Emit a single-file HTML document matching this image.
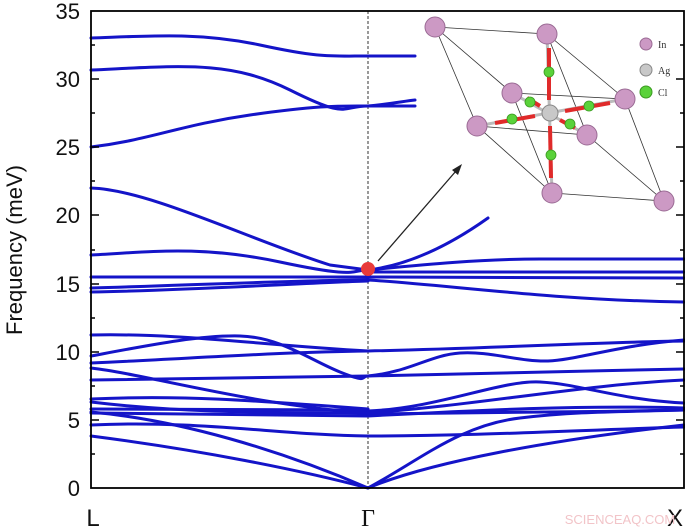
<!DOCTYPE html>
<html><head><meta charset="utf-8"><style>
html,body{margin:0;padding:0;background:#fff;}
svg{display:block;font-family:"Liberation Sans",Arial,sans-serif;}
</style></head><body>
<svg width="685" height="528" viewBox="0 0 685 528" xmlns="http://www.w3.org/2000/svg">
<rect width="685" height="528" fill="#fff"/>
<line x1="368" y1="11" x2="368" y2="488" stroke="#333" stroke-width="1" stroke-dasharray="3,2"/>
<g fill="none" stroke="#1414c8" stroke-width="3" stroke-linecap="round">
<path d="M91,38 C150,36 200,32 260,45 S330,56 368,56"/>
<path d="M91,70 C180,66 230,60 290,90 S340,106 368,106"/>
<path d="M91,147 C150,140 180,125 250,115 S340,106 368,106"/>
<path d="M91,188 C150,190 250,240 330,265 L368,270"/>
<path d="M91,255 C150,252 200,245 280,262 S350,270 368,270"/>
<path d="M91,277 L368,277"/>
<path d="M91,288 C200,285 300,280 368,280"/>
<path d="M91,292 C200,290 300,283 368,281"/>
<path d="M91,335 C180,333 260,345 368,351"/>
<path d="M91,356 C150,345 200,335 240,336 S310,360 340,372 S360,376 368,376"/>
<path d="M91,363 C200,358 280,352 368,351"/>
<path d="M91,380 C200,379 300,377 368,376"/>
<path d="M91,368 C150,375 250,405 368,413"/>
<path d="M91,399 C180,395 250,400 368,409"/>
<path d="M91,402 C200,415 300,412 368,413"/>
<path d="M91,409 L368,410"/>
<path d="M91,413 L368,416"/>
<path d="M91,425 C200,420 280,435 368,436"/>
<path d="M91,412 C180,420 280,450 368,488"/>
<path d="M91,436 C200,450 300,470 368,488"/>
<path d="M368,56 L415,56"/>
<path d="M368,106 C390,104 405,101 415,100"/>
<path d="M368,106 L415,106"/>
<path d="M368,270 C410,265 450,245 488,218"/>
<path d="M368,270 C420,265 480,259 540,259 L684,259"/>
<path d="M368,272 L684,272"/>
<path d="M368,277 L684,278"/>
<path d="M368,280 C450,285 550,300 684,302"/>
<path d="M368,351 C500,348 600,342 684,341"/>
<path d="M368,376 C410,372 430,355 460,353 S520,362 548,361 S620,345 684,340"/>
<path d="M368,376 C480,374 580,371 684,369"/>
<path d="M368,411 C440,408 500,380 540,382 S620,400 684,403"/>
<path d="M368,413 C480,405 580,385 684,380"/>
<path d="M368,414 C480,413 580,412 684,410"/>
<path d="M368,416 C480,410 580,405 684,408"/>
<path d="M368,436 C480,436 580,430 684,427"/>
<path d="M368,488 C420,460 460,425 520,418 S620,412 684,410"/>
<path d="M368,488 C430,462 550,440 684,425"/>
</g>
<!-- inset -->
<rect x="418" y="12" width="265" height="150" fill="#fff"/>
<rect x="490" y="160" width="193" height="55" fill="#fff"/>
<g stroke="#333" stroke-width="0.8" fill="none">
<path d="M435,27 L547,34 L625,99 L512,93 Z"/>
<path d="M477,126 L587,135 L664,201 L552,193 Z"/>
<path d="M435,27 L477,126 M547,34 L587,135 M625,99 L664,201 M512,93 L552,193"/>
</g>
<g stroke="#bbb" stroke-width="3">
<line x1="477" y1="126" x2="625" y2="99"/><line x1="512" y1="93" x2="587" y2="135"/><line x1="547" y1="34" x2="552" y2="193"/>
</g>
<g stroke="#e02a2a" stroke-width="4">
<line x1="549" y1="48" x2="549" y2="100"/><line x1="550" y1="126" x2="551" y2="178"/>
<line x1="495" y1="123" x2="535" y2="116"/><line x1="565" y1="111" x2="610" y2="103"/>
<line x1="527" y1="98" x2="540" y2="106"/><line x1="560" y1="120" x2="575" y2="128"/>
</g>
<g fill="#cc99c4" stroke="#9a6a94" stroke-width="1">
<circle cx="435" cy="27" r="10"/><circle cx="547" cy="34" r="10"/><circle cx="512" cy="93" r="10"/><circle cx="625" cy="99" r="10"/>
<circle cx="477" cy="126" r="10"/><circle cx="587" cy="135" r="10"/><circle cx="552" cy="193" r="10"/><circle cx="664" cy="201" r="10"/>
</g>
<circle cx="550" cy="113" r="8" fill="#c8c8c8" stroke="#888"/>
<g fill="#5ad23a" stroke="#3a9a20" stroke-width="0.8">
<circle cx="549" cy="72" r="5"/><circle cx="551" cy="155" r="5"/><circle cx="512" cy="119" r="5"/><circle cx="589" cy="106" r="5"/><circle cx="530" cy="102" r="5"/><circle cx="570" cy="124" r="5"/>
</g>
<circle cx="646" cy="44" r="6" fill="#cc99c4" stroke="#9a6a94"/>
<circle cx="646" cy="70" r="6" fill="#c8c8c8" stroke="#888"/>
<circle cx="646" cy="92" r="6" fill="#5ad23a" stroke="#3a9a20"/>
<g font-family="Liberation Serif,serif" font-size="10" fill="#333">
<text x="658" y="48">In</text><text x="658" y="74">Ag</text><text x="658" y="96">Cl</text>
</g>
<!-- red dot & arrow -->
<circle cx="368" cy="269" r="7" fill="#e83a3a"/>
<line x1="378" y1="261" x2="456" y2="171" stroke="#222" stroke-width="1.3"/>
<polygon points="462,164 452,170 458,175" fill="#222"/>
<!-- frame -->
<rect x="91" y="11" width="593" height="477" fill="none" stroke="#000" stroke-width="1.8"/>
<g stroke="#000" stroke-width="1.5">
<line x1="91" y1="420" x2="99" y2="420"/><line x1="91" y1="352" x2="99" y2="352"/><line x1="91" y1="284" x2="99" y2="284"/><line x1="91" y1="215" x2="99" y2="215"/><line x1="91" y1="147" x2="99" y2="147"/><line x1="91" y1="79" x2="99" y2="79"/>
<line x1="91" y1="454" x2="95" y2="454"/><line x1="91" y1="386" x2="95" y2="386"/><line x1="91" y1="318" x2="95" y2="318"/><line x1="91" y1="250" x2="95" y2="250"/><line x1="91" y1="181" x2="95" y2="181"/><line x1="91" y1="113" x2="95" y2="113"/><line x1="91" y1="45" x2="95" y2="45"/>
<line x1="684" y1="420" x2="676" y2="420"/><line x1="684" y1="352" x2="676" y2="352"/><line x1="684" y1="284" x2="676" y2="284"/><line x1="684" y1="215" x2="676" y2="215"/><line x1="684" y1="147" x2="676" y2="147"/><line x1="684" y1="79" x2="676" y2="79"/>
<line x1="684" y1="454" x2="680" y2="454"/><line x1="684" y1="386" x2="680" y2="386"/><line x1="684" y1="318" x2="680" y2="318"/><line x1="684" y1="250" x2="680" y2="250"/><line x1="684" y1="181" x2="680" y2="181"/><line x1="684" y1="113" x2="680" y2="113"/><line x1="684" y1="45" x2="680" y2="45"/>
</g>
<g font-size="22" fill="#111" text-anchor="end">
<text x="80" y="496">0</text><text x="80" y="428">5</text><text x="80" y="360">10</text><text x="80" y="292">15</text><text x="80" y="223">20</text><text x="80" y="155">25</text><text x="80" y="87">30</text><text x="80" y="19">35</text>
</g>
<text transform="translate(22,250) rotate(-90)" font-size="22" text-anchor="middle" fill="#111">Frequency (meV)</text>
<text x="93" y="526" font-size="24" text-anchor="middle" fill="#111">L</text>
<text x="368" y="526" font-size="24" text-anchor="middle" fill="#111" font-family="Liberation Serif,serif">Γ</text>
<text x="675" y="526" font-size="24" text-anchor="middle" fill="#111">X</text>
<text x="620" y="524" font-size="13" text-anchor="middle" fill="#f2c4c8">SCIENCEAQ.COM</text>
</svg>
</body></html>
